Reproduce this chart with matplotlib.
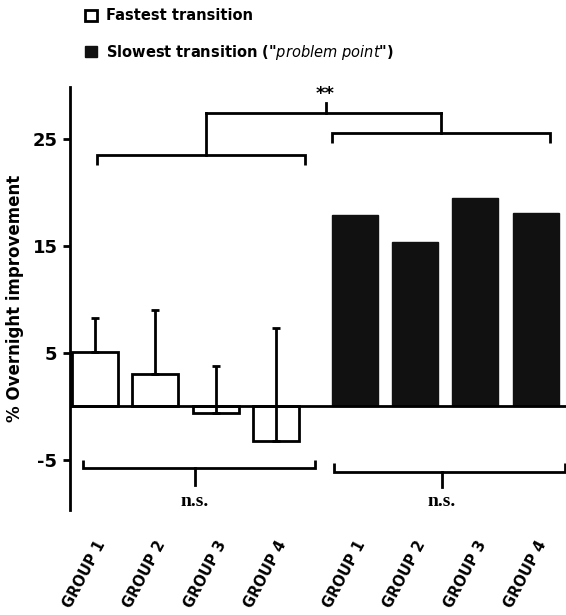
import numpy as np
import matplotlib

matplotlib.use("Agg")
import matplotlib.pyplot as plt
from matplotlib.patches import Patch
from matplotlib.transforms import ScaledTranslation

GROUPS = ["GROUP 1", "GROUP 2", "GROUP 3", "GROUP 4"]
FAST_VALS = [5.1, 3.0, -0.6, -3.2]
FAST_ERR_UP = [3.2, 6.0, 4.4, 10.5]
SLOW_VALS = [17.9, 15.4, 19.5, 18.1]

LW = 2.0


def bracket(ax, x0, x1, y, tip, stem_x, stem_to):
    # horizontal bar with end ticks pointing towards the bars, stem pointing away
    ax.plot([x0, x0, x1, x1], [y + tip, y, y, y + tip], color="black", lw=LW,
            solid_capstyle="butt", solid_joinstyle="miter", clip_on=False)
    ax.plot([stem_x, stem_x], [y, stem_to], color="black", lw=LW, clip_on=False)


def main() -> None:
    plt.rcParams["font.family"] = ["DejaVu Sans"]
    plt.rcParams["mathtext.fontset"] = "dejavusans"

    fig = plt.figure(figsize=(5.66, 6.15), dpi=100)
    ax = fig.add_axes([70 / 566, 105 / 615, 496 / 566, 423 / 615])

    x_fast = np.arange(len(GROUPS), dtype=float)
    x_slow = x_fast + 4.3
    width = 0.76

    ax.bar(x_fast, FAST_VALS, width=width, color="white", edgecolor="black", linewidth=LW, zorder=2)
    ax.bar(x_slow, SLOW_VALS, width=width, color="#111111", edgecolor="#111111", linewidth=1, zorder=2)
    ax.errorbar(x_fast, FAST_VALS, yerr=[np.zeros(len(FAST_VALS)), FAST_ERR_UP], fmt="none",
                ecolor="black", elinewidth=LW, capsize=3, capthick=LW, zorder=3)
    ax.axhline(0, color="black", lw=LW, zorder=4)

    ax.set_xlim(-0.41, 7.8)
    ax.set_ylim(-9.7, 29.9)
    ax.set_yticks([-5, 5, 15, 25])
    ax.set_yticklabels(["-5", "5", "15", "25"], fontsize=13, fontweight="bold")
    ax.tick_params(axis="y", length=5, width=LW, pad=4)
    ax.set_ylabel("% Overnight improvement", fontsize=12, fontweight="bold", labelpad=6)

    ax.set_xticks(list(x_fast) + list(x_slow))
    ax.set_xticklabels(GROUPS + GROUPS, rotation=62, ha="right", va="center",
                       rotation_mode="anchor", fontsize=10.5, fontweight="bold")
    ax.tick_params(axis="x", length=0, pad=23)
    shift = ScaledTranslation(5 / 72, 0, fig.dpi_scale_trans)
    for lab in ax.get_xticklabels():
        lab.set_transform(lab.get_transform() + shift)

    for side in ["top", "right", "bottom"]:
        ax.spines[side].set_visible(False)
    ax.spines["left"].set_linewidth(LW)

    # lower brackets, n.s.
    mid_f = (x_fast[0] + x_fast[-1]) / 2
    mid_s = (x_slow[0] + x_slow[-1]) / 2
    bracket(ax, x_fast[0] - 0.19, x_fast[-1] + 0.65, -5.8, 0.8, mid_f + 0.16, -7.4)
    bracket(ax, x_slow[0] - 0.34, x_slow[-1] + 0.49, -6.1, 0.8, mid_s - 0.06, -7.5)
    ax.text(mid_f + 0.16, -8.9, "n.s.", ha="center", va="center", fontsize=14,
            family="Liberation Serif", fontweight="bold")
    ax.text(mid_s - 0.06, -8.9, "n.s.", ha="center", va="center", fontsize=14,
            family="Liberation Serif", fontweight="bold")

    # upper brackets, **
    top_y = 27.5
    left_stem = mid_f + 0.34
    right_stem = mid_s - 0.07
    bracket(ax, x_fast[0] + 0.03, x_fast[-1] + 0.48, 23.5, -0.9, left_stem, top_y)
    bracket(ax, x_slow[0] - 0.37, x_slow[-1] + 0.23, 25.55, -0.85, right_stem, top_y)
    ax.plot([left_stem, right_stem], [top_y, top_y], color="black", lw=LW, clip_on=False)
    star_x = x_fast[-1] + 0.82
    ax.plot([star_x, star_x], [top_y, 28.4], color="black", lw=LW, clip_on=False)
    ax.text(star_x, 29.2, "**", ha="center", va="center", fontsize=13, fontweight="bold")

    handles = [
        Patch(facecolor="white", edgecolor="black", linewidth=LW),
        Patch(facecolor="#111111", edgecolor="#111111"),
    ]
    labels = ["Fastest transition", r'Slowest transition ("$\it{problem\ point}$")']
    fig.legend(handles, labels, loc="upper left", bbox_to_anchor=(72 / 566, 1.008), frameon=False,
               handlelength=0.8, handleheight=0.8, handletextpad=0.6, labelspacing=1.35,
               prop={"size": 10.5, "weight": "bold"})

    fig.savefig("out.png", dpi=100)


if __name__ == "__main__":
    main()
